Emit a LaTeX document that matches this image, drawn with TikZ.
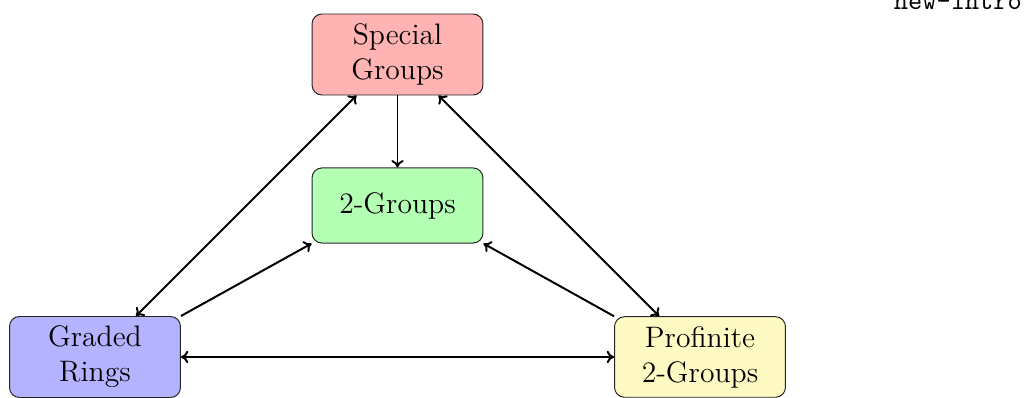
\documentclass[tikz,border=0pt]{standalone}
\usetikzlibrary{arrows.meta}
\definecolor{boxred}{RGB}{255,179,179}
\definecolor{boxgreen}{RGB}{179,255,179}
\definecolor{boxblue}{RGB}{179,179,255}
\definecolor{boxyellow}{RGB}{255,250,196}
\begin{document}
\begin{tikzpicture}[x=0.4049pt,y=-0.4049pt,
  box/.style={draw=black!85, line width=0.4pt, rounded corners=4pt, align=center,
    minimum width=69.2pt, inner sep=0pt, font=\fontsize{12}{14.2}\selectfont},
  conn/.style={line width=0.8pt, -{To[length=3pt,width=5pt]}},
  biconn/.style={line width=0.8pt, {To[length=3pt,width=5pt]}-{To[length=3pt,width=5pt]}}]
\useasboundingbox (0,0) rectangle (1027,398);
\node[box, fill=boxred, minimum height=32.8pt] (special) at (397.5,54.5) {Special\\Groups};
\node[box, fill=boxgreen, minimum height=30.4pt] (two) at (397.5,205.5) {2-Groups};
\node[box, fill=boxblue, minimum height=32.8pt] (graded) at (95,357) {Graded\\Rings};
\node[box, fill=boxyellow, minimum height=32.6pt] (prof) at (700,357) {Profinite\\2-Groups};
\node[anchor=base west, inner sep=0pt, font=\fontsize{10.95}{13}\ttfamily] (label) at (893.5,9.5) {new-intro};
\draw[conn] (special.south) -- (two.north);
\draw[biconn] (special.225) -- (graded.45);
\draw[biconn] (special.315) -- (prof.135);
\draw[conn] (graded.north east) -- (two.south west);
\draw[conn] (prof.north west) -- (two.south east);
\draw[biconn] (graded.east) -- (prof.west);
\end{tikzpicture}
\end{document}
